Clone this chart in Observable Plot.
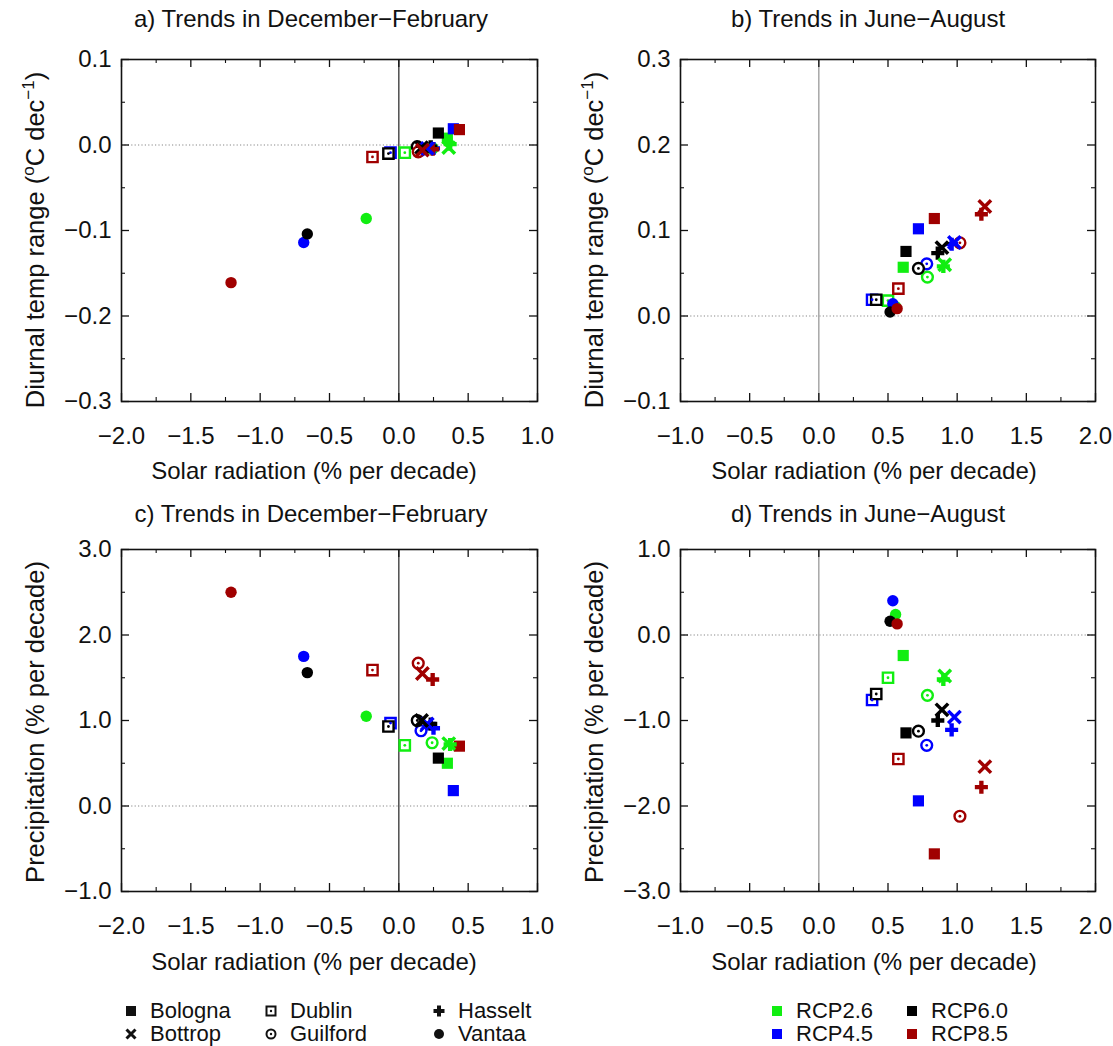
<!DOCTYPE html>
<html><head><meta charset="utf-8">
<script src="https://cdn.jsdelivr.net/npm/d3@7"></script>
<script src="https://cdn.jsdelivr.net/npm/@observablehq/plot@0.6"></script>
<style>
body{margin:0;background:#fff;font-family:"Liberation Sans",Arial,sans-serif;color:#111;}
#wrap{position:relative;width:1113px;height:1046px;overflow:hidden;background:#fff;}
.panel{position:absolute;overflow:visible;}
.lab{position:absolute;font-size:24px;white-space:nowrap;transform:translate(-50%,-50%);}
.ylab{position:absolute;font-size:25.5px;white-space:nowrap;transform:translate(-50%,-50%) rotate(-90deg);}
.ylab sup{font-size:17px;vertical-align:10px;line-height:0;}
.leg{position:absolute;font-size:22px;white-space:nowrap;display:flex;align-items:center;transform:translateY(-50%);}
.leg svg{margin-right:12px;}
</style></head><body><div id="wrap"></div>
<script>
// ---- data ----
const cities = ["Bologna","Bottrop","Dublin","Guilford","Hasselt","Vantaa"];
const rcps = ["RCP2.6","RCP4.5","RCP6.0","RCP8.5"];
const rcpColors = ["#11ee11","#0000ff","#000000","#a00000"];
// rows: cities; columns: RCP2.6, RCP4.5, RCP6.0, RCP8.5
const djfSolar = [
  [0.35, 0.393, 0.285, 0.437],
  [0.36, 0.205, 0.164, 0.17],
  [0.043, -0.06, -0.075, -0.19],
  [0.24, 0.16, 0.133, 0.14],
  [0.37, 0.25, 0.23, 0.244],
  [-0.235, -0.686, -0.66, -1.21]
];
const djfDtr = [
  [0.008, 0.019, 0.014, 0.018],
  [-0.003, -0.004, -0.003, -0.006],
  [-0.009, -0.009, -0.010, -0.014],
  [-0.004, -0.006, -0.002, -0.008],
  [0.001, -0.004, -0.002, -0.005],
  [-0.086, -0.114, -0.104, -0.161]
];
const djfPrecip = [
  [0.50, 0.18, 0.56, 0.70],
  [0.73, 0.96, 1.00, 1.55],
  [0.71, 0.97, 0.93, 1.59],
  [0.74, 0.88, 1.00, 1.67],
  [0.72, 0.91, 0.96, 1.48],
  [1.05, 1.75, 1.56, 2.50]
];
const jjaSolar = [
  [0.61, 0.72, 0.63, 0.835],
  [0.91, 0.98, 0.89, 1.20],
  [0.50, 0.385, 0.415, 0.575],
  [0.785, 0.78, 0.72, 1.02],
  [0.90, 0.96, 0.86, 1.175],
  [0.555, 0.535, 0.515, 0.566]
];
const jjaDtr = [
  [0.057, 0.102, 0.0755, 0.114],
  [0.060, 0.086, 0.080, 0.128],
  [0.018, 0.019, 0.019, 0.032],
  [0.0455, 0.061, 0.0556, 0.0856],
  [0.058, 0.084, 0.0735, 0.119],
  [0.011, 0.0144, 0.0047, 0.0086]
];
const jjaPrecip = [
  [-0.24, -1.94, -1.145, -2.56],
  [-0.48, -0.96, -0.875, -1.54],
  [-0.50, -0.76, -0.69, -1.45],
  [-0.706, -1.29, -1.125, -2.12],
  [-0.52, -1.11, -1.00, -1.78],
  [0.24, 0.40, 0.16, 0.13]
];
// tick values
const xTicksDJF = [-2.0, -1.5, -1.0, -0.5, 0.0, 0.5, 1.0];
const xMinorDJF = [-1.75, -1.25, -0.75, -0.25, 0.25, 0.75];
const xTicksJJA = [-1.0, -0.5, 0.0, 0.5, 1.0, 1.5, 2.0];
const xMinorJJA = [-0.75, -0.25, 0.25, 0.75, 1.25, 1.75];
const yTicksA = [-0.3, -0.2, -0.1, 0.0, 0.1];
const yMinorA = [-0.25, -0.15, -0.05, 0.05];
const yTicksB = [-0.1, 0.0, 0.1, 0.2, 0.3];
const yMinorB = [-0.05, 0.05, 0.15, 0.25];
const yTicksC = [-1.0, 0.0, 1.0, 2.0, 3.0];
const yMinorC = [-0.5, 0.5, 1.5, 2.5];
const yTicksD = [-3.0, -2.0, -1.0, 0.0, 1.0];
const yMinorD = [-2.5, -1.5, -0.5, 0.5];

const wrap = document.getElementById("wrap");
const fmt = d3.format(".1f");

function rows(solar, vals) {
  const out = [];
  cities.forEach((c, i) => rcps.forEach((r, j) => out.push({city: c, rcp: r, x: solar[i][j], y: vals[i][j]})));
  return out;
}

function symbolMarks(data) {
  const f = (c) => data.filter(d => d.city === c);
  return [
    Plot.dot(f("Dublin"), {x: "x", y: "y", symbol: "square", r: 5.8, fill: "white", stroke: "rcp", strokeWidth: 2.4}),
    Plot.dot(f("Dublin"), {x: "x", y: "y", r: 1.4, fill: "rcp"}),
    Plot.dot(f("Guilford"), {x: "x", y: "y", r: 5.4, fill: "white", stroke: "rcp", strokeWidth: 2.4}),
    Plot.dot(f("Guilford"), {x: "x", y: "y", r: 1.4, fill: "rcp"}),
    Plot.dot(f("Vantaa"), {x: "x", y: "y", r: 5.7, fill: "rcp"}),
    Plot.dot(f("Bologna"), {x: "x", y: "y", symbol: "square", r: 6.3, fill: "rcp"}),
    Plot.dot(f("Hasselt"), {x: "x", y: "y", symbol: "cross", r: 5.5, fill: "rcp"}),
    Plot.dot(f("Bottrop"), {x: "x", y: "y", symbol: "times", r: 5.7, stroke: "rcp", strokeWidth: 3.5})
  ];
}

const W = 556, H = 480, MB = H - 401;

function panel({left, top, mL, mR, mT, xDom, yDom, xT, xM, yT, yM, data, vColor}) {
  const ph = H - mT - MB;
  const pw = W - mL - mR;
  const major = 8, minor = 4;
  const chart = Plot.plot({
    width: W, height: H,
    marginLeft: mL, marginRight: mR, marginTop: mT, marginBottom: MB,
    style: {fontFamily: "Liberation Sans, Arial, sans-serif", fontSize: "24px", color: "#111", background: "transparent", overflow: "visible"},
    x: {domain: xDom, axis: null},
    y: {domain: yDom, axis: null},
    color: {domain: rcps, range: rcpColors},
    marks: [
      Plot.ruleY([0], {stroke: "#888", strokeWidth: 1.2, strokeDasharray: "1.2,2.2"}),
      Plot.ruleX([0], {stroke: vColor, strokeWidth: 1.3}),
      // inward tick marks on all four sides
      Plot.ruleX(xT, {x: d => d, insetTop: ph - major, stroke: "#111", strokeWidth: 1.3}),
      Plot.ruleX(xT, {x: d => d, insetBottom: ph - major, stroke: "#111", strokeWidth: 1.3}),
      Plot.ruleX(xM, {x: d => d, insetTop: ph - minor, stroke: "#111", strokeWidth: 1.1}),
      Plot.ruleX(xM, {x: d => d, insetBottom: ph - minor, stroke: "#111", strokeWidth: 1.1}),
      Plot.ruleY(yT, {y: d => d, insetRight: pw - major, stroke: "#111", strokeWidth: 1.3}),
      Plot.ruleY(yT, {y: d => d, insetLeft: pw - major, stroke: "#111", strokeWidth: 1.3}),
      Plot.ruleY(yM, {y: d => d, insetRight: pw - minor, stroke: "#111", strokeWidth: 1.1}),
      Plot.ruleY(yM, {y: d => d, insetLeft: pw - minor, stroke: "#111", strokeWidth: 1.1}),
      Plot.axisX(xT, {anchor: "bottom", tickSize: 0, tickPadding: 25, tickFormat: fmt, label: null}),
      Plot.axisY(yT, {anchor: "left", tickSize: 0, tickPadding: 10, tickFormat: fmt, label: null}),
      ...symbolMarks(data),
      Plot.frame({stroke: "#111", strokeWidth: 1.6})
    ]
  });
  chart.classList.add("panel");
  chart.style.left = left + "px";
  chart.style.top = top + "px";
  wrap.appendChild(chart);
}

panel({left: 0, top: 0, mL: 121, mR: W - 537, mT: 59, xDom: [-2, 1], yDom: [-0.3, 0.1],
  xT: xTicksDJF, xM: xMinorDJF, yT: yTicksA, yM: yMinorA, data: rows(djfSolar, djfDtr), vColor: "#333"});
panel({left: 556, top: 0, mL: 680 - 556, mR: W - (1095 - 556), mT: 59, xDom: [-1, 2], yDom: [-0.1, 0.3],
  xT: xTicksJJA, xM: xMinorJJA, yT: yTicksB, yM: yMinorB, data: rows(jjaSolar, jjaDtr), vColor: "#999"});
panel({left: 0, top: 490, mL: 121, mR: W - 537, mT: 59, xDom: [-2, 1], yDom: [-1, 3],
  xT: xTicksDJF, xM: xMinorDJF, yT: yTicksC, yM: yMinorC, data: rows(djfSolar, djfPrecip), vColor: "#333"});
panel({left: 556, top: 490, mL: 680 - 556, mR: W - (1095 - 556), mT: 59, xDom: [-1, 2], yDom: [-3, 1],
  xT: xTicksJJA, xM: xMinorJJA, yT: yTicksD, yM: yMinorD, data: rows(jjaSolar, jjaPrecip), vColor: "#999"});

// titles and axis labels
function lab(cls, html, x, y) {
  const d = document.createElement("div");
  d.className = cls; d.innerHTML = html;
  d.style.left = x + "px"; d.style.top = y + "px";
  wrap.appendChild(d);
}
lab("lab", "a) Trends in December\u2212February", 311, 19);
lab("lab", "b) Trends in June\u2212August", 868, 19);
lab("lab", "c) Trends in December\u2212February", 311, 514);
lab("lab", "d) Trends in June\u2212August", 868, 514);
lab("lab", "Solar radiation (% per decade)", 314, 471);
lab("lab", "Solar radiation (% per decade)", 874, 471);
lab("lab", "Solar radiation (% per decade)", 314, 962);
lab("lab", "Solar radiation (% per decade)", 874, 962);
lab("ylab", "Diurnal temp range (<sup>o</sup>C dec<sup>\u22121</sup>)", 35, 240);
lab("ylab", "Diurnal temp range (<sup>o</sup>C dec<sup>\u22121</sup>)", 594, 240);
lab("ylab", "Precipitation (% per decade)", 35, 722);
lab("ylab", "Precipitation (% per decade)", 594, 722);

// legends
const glyph = {
  Bologna: '<rect x="2" y="2" width="10" height="10" fill="#111"/>',
  Bottrop: '<path d="M2.5,2.5L11.5,11.5M11.5,2.5L2.5,11.5" stroke="#111" stroke-width="3"/>',
  Dublin: '<rect x="2.5" y="2.5" width="9" height="9" fill="none" stroke="#111" stroke-width="2"/><circle cx="7" cy="7" r="1.2" fill="#111"/>',
  Guilford: '<circle cx="7" cy="7" r="4.5" fill="none" stroke="#111" stroke-width="2"/><circle cx="7" cy="7" r="1.2" fill="#111"/>',
  Hasselt: '<path d="M5,1.5h4v3.5h3.5v4h-3.5v3.5h-4v-3.5h-3.5v-4h3.5z" fill="#111"/>',
  Vantaa: '<circle cx="7" cy="7" r="5" fill="#111"/>'
};
const cityPos = [[124, 1011], [124, 1034], [264, 1011], [264, 1034], [432, 1011], [432, 1034]];
cities.forEach((c, i) => {
  const d = document.createElement("div");
  d.className = "leg";
  d.style.left = cityPos[i][0] + "px"; d.style.top = cityPos[i][1] + "px";
  d.innerHTML = `<svg width="14" height="14">${glyph[c]}</svg><span>${c}</span>`;
  wrap.appendChild(d);
});
const rcpPos = [[770, 1011], [770, 1034], [905, 1011], [905, 1034]];
rcps.forEach((r, i) => {
  const d = document.createElement("div");
  d.className = "leg";
  d.style.left = rcpPos[i][0] + "px"; d.style.top = rcpPos[i][1] + "px";
  d.innerHTML = `<svg width="14" height="14"><rect x="2" y="2" width="10" height="10" fill="${rcpColors[i]}"/></svg><span>${r}</span>`;
  wrap.appendChild(d);
});
</script></body></html>
